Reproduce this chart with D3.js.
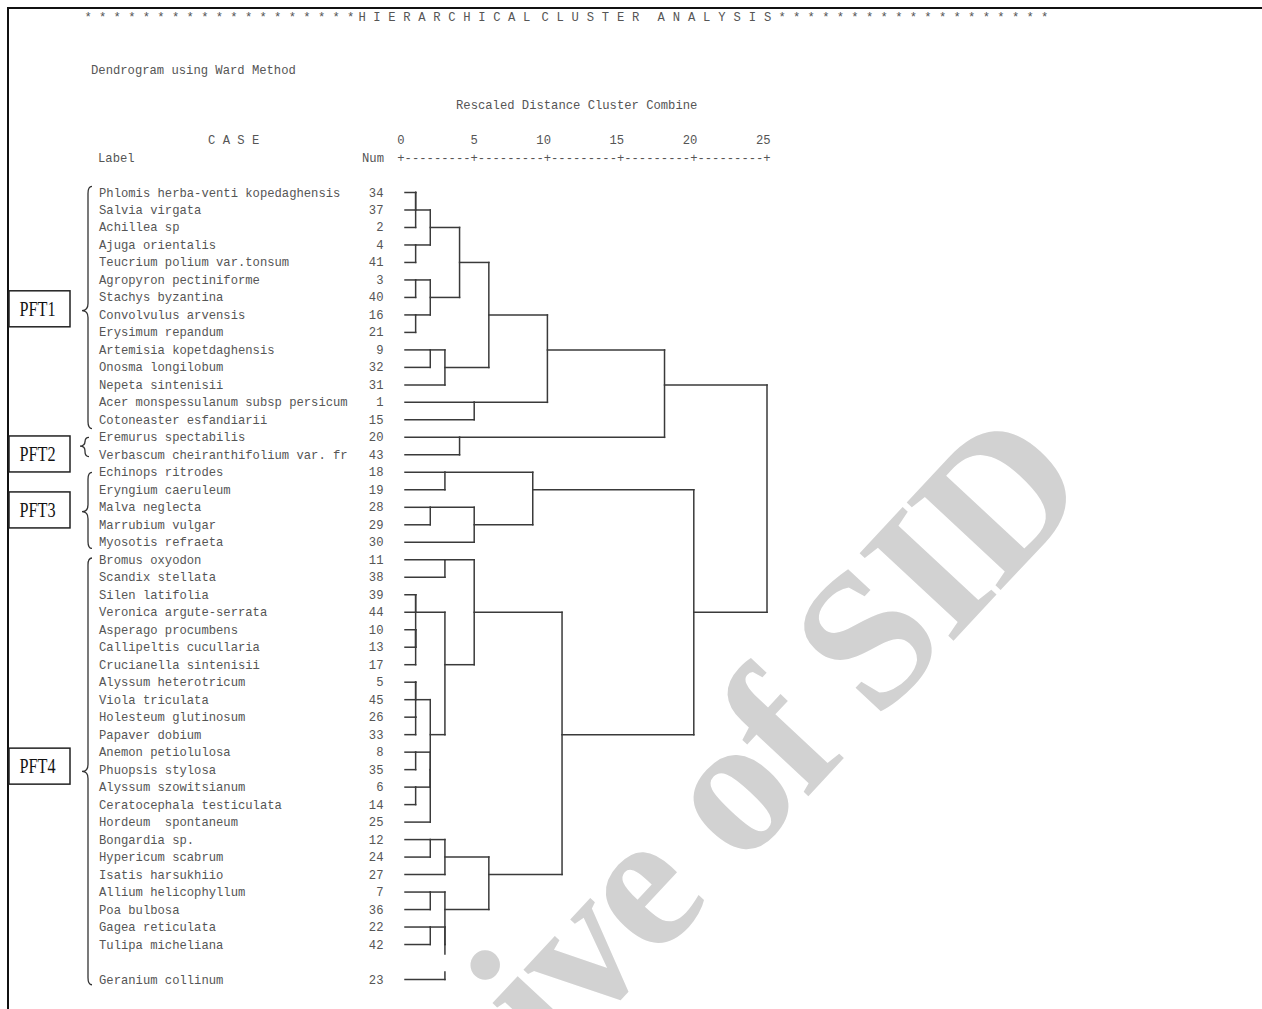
<!DOCTYPE html>
<html><head><meta charset="utf-8">
<script src="https://cdn.jsdelivr.net/npm/d3@7"></script>
<style>
html,body{margin:0;padding:0;background:#fff;}
svg{display:block;}
.mono{font-family:"Liberation Mono","Courier New",monospace;font-size:12.2px;fill:#555;white-space:pre;}
</style></head><body>
<svg id="chart" width="1262" height="1009"></svg>
<script>
// ---------------- DATA ----------------
const caseLabels = [
  "Phlomis herba-venti kopedaghensis","Salvia virgata","Achillea sp","Ajuga orientalis",
  "Teucrium polium var.tonsum","Agropyron pectiniforme","Stachys byzantina","Convolvulus arvensis",
  "Erysimum repandum","Artemisia kopetdaghensis","Onosma longilobum","Nepeta sintenisii",
  "Acer monspessulanum subsp persicum","Cotoneaster esfandiarii","Eremurus spectabilis",
  "Verbascum cheiranthifolium var. fr","Echinops ritrodes","Eryngium caeruleum","Malva neglecta",
  "Marrubium vulgar","Myosotis refraeta","Bromus oxyodon","Scandix stellata","Silen latifolia",
  "Veronica argute-serrata","Asperago procumbens","Callipeltis cucullaria","Crucianella sintenisii",
  "Alyssum heterotricum","Viola triculata","Holesteum glutinosum","Papaver dobium",
  "Anemon petiolulosa","Phuopsis stylosa","Alyssum szowitsianum","Ceratocephala testiculata",
  "Hordeum  spontaneum","Bongardia sp.","Hypericum scabrum","Isatis harsukhiio",
  "Allium helicophyllum","Poa bulbosa","Gagea reticulata","Tulipa micheliana","Geranium collinum"
];
const caseNums = [34,37,2,4,41,3,40,16,21,9,32,31,1,15,20,43,18,19,28,29,30,11,38,39,44,10,13,17,
  5,45,26,33,8,35,6,14,25,12,24,27,7,36,22,42,23];
// agglomeration: [clusterA, clusterB, rescaled distance]; numbers = case Num, "mK" = merge K
const merges = [
  [34,37,1],["m0",2,1],[4,41,1],["m1","m2",2],[3,40,1],[16,21,1],["m4","m5",2],["m3","m6",4],
  [9,32,2],["m8",31,3],["m7","m9",6],[1,15,5],["m10","m11",10],[20,43,4],["m12","m13",18],
  [18,19,3],[28,29,2],["m16",30,5],["m15","m17",9],
  [11,38,3],[10,13,1],["m20",17,1],[39,44,1],["m22","m21",1],[5,45,1],[26,33,1],["m24","m25",1],
  [8,35,1],[6,14,1],["m27","m28",2],["m29",25,2],["m26","m30",2],["m23","m31",3],["m19","m32",5],
  [12,24,2],["m34",27,3],[7,36,2],[22,42,2],["m37",23,3],["m36","m38",3],["m35","m39",6],
  ["m33","m40",11],["m18","m41",20],["m14","m42",25]
];
const axisTicks = [0,5,10,15,20,25];
const groupNames = ["PFT1","PFT2","PFT3","PFT4"];
const groupRowSpan = [[-0.35,13.5],[14,15.1],[16,20.35],[20.9,45.3]];
const groupTipRow = [6.75,14.5,18.25,33.1];
const groupBoxRow = [6.65,14.95,18.15,32.8];
const blankAfterRow = 43;   // an empty listing line follows this row

// ---------------- LAYOUT ----------------
const svg = d3.select("#chart");
const W = 1262, H = 1009;
const x = d3.scaleLinear().domain([0,25]).range([401,767]);
const y = d3.scaleLinear().domain([0,45]).range([192.5,979.5]);
const slot = i => i > blankAfterRow ? i + 1 : i;
const lineColor = "#3a3a3a";

// watermark
svg.append("text")
  .attr("transform","translate(1092,492) rotate(-47)")
  .attr("text-anchor","end")
  .style("font-family","'Liberation Serif','Times New Roman',serif")
  .style("font-weight","bold")
  .style("font-size","196px")
  .style("letter-spacing","-4px")
  .style("fill","#d2d2d2")
  .text("Archive of SID");

// frame
svg.append("line").attr("x1",8).attr("x2",W).attr("y1",8).attr("y2",8)
  .attr("stroke","#111").attr("stroke-width",2);
svg.append("line").attr("x1",8).attr("x2",8).attr("y1",7).attr("y2",H)
  .attr("stroke","#111").attr("stroke-width",2);

// header
const hdr = svg.append("g");
const stars = Array(19).fill("*").join(" ");
[[84.4,270,stars],[358.4,172,"H I E R A R C H I C A L"],[541.4,98,"C L U S T E R"],
 [657.4,114,"A N A L Y S I S"],[778.4,270,stars]].forEach(([x0,len,t])=>{
  hdr.append("text").attr("class","mono").attr("x",x0).attr("y",21)
    .attr("textLength",len).attr("lengthAdjust","spacing").text(t);
});
svg.append("text").attr("class","mono").attr("x",91).attr("y",74).text("Dendrogram using Ward Method");
svg.append("text").attr("class","mono").attr("x",456).attr("y",109).text("Rescaled Distance Cluster Combine");
svg.append("text").attr("class","mono").attr("x",208).attr("y",144).text("C A S E");
svg.append("text").attr("class","mono").attr("x",98).attr("y",162).text("Label");
svg.append("text").attr("class","mono").attr("x",384).attr("y",162).attr("text-anchor","end").text("Num");

// text axis
const ax = svg.append("g");
ax.selectAll("text.tl").data(axisTicks).join("text").attr("class","mono tl")
  .attr("x",d=>x(d)+3.6).attr("y",144).attr("text-anchor","end").text(d=>d);
ax.selectAll("text.tp").data(axisTicks).join("text").attr("class","mono tp")
  .attr("x",d=>x(d)).attr("y",162).attr("text-anchor","middle").text("+");
ax.selectAll("text.td").data(d3.pairs(axisTicks)).join("text").attr("class","mono td")
  .attr("x",d=>x(d[0])+3.6).attr("y",162)
  .attr("textLength",d=>x(d[1])-x(d[0])-7.2).attr("lengthAdjust","spacing")
  .text("---------");

// labels and numbers
const rows = caseLabels.map((l,i)=>({label:l,num:caseNums[i],row:i}));
svg.selectAll("text.lab").data(rows).join("text").attr("class","mono lab")
  .attr("x",99).attr("y",d=>y(slot(d.row))+4).text(d=>d.label);
svg.selectAll("text.num").data(rows).join("text").attr("class","mono num")
  .attr("x",383.5).attr("y",d=>y(slot(d.row))+4).attr("text-anchor","end").text(d=>d.num);

// dendrogram
const nodes = {};
rows.forEach(r=>{ nodes[r.num] = {pos:r.row, h:0, leaf:true}; });
const segs = [];
merges.forEach((m,i)=>{
  const a = nodes[m[0]], b = nodes[m[1]], d = m[2];
  [a,b].forEach(c=>{
    segs.push({x1: c.leaf ? x(0)+4 : x(c.h), x2: x(d), y1: y(slot(c.pos)), y2: y(slot(c.pos))});
  });
  const lo = Math.min(a.pos,b.pos), hi = Math.max(a.pos,b.pos);
  const sLo = slot(lo), sHi = slot(hi);
  if (lo <= blankAfterRow && hi > blankAfterRow) {
    const gy = y(blankAfterRow+1);
    segs.push({x1:x(d),x2:x(d),y1:y(sLo),y2:gy-8});
    segs.push({x1:x(d),x2:x(d),y1:gy+10,y2:y(sHi)});
  } else {
    segs.push({x1:x(d),x2:x(d),y1:y(sLo),y2:y(sHi)});
  }
  nodes["m"+i] = {pos: Math.floor((a.pos+b.pos)/2), h:d, leaf:false};
});
svg.append("g").selectAll("line").data(segs).join("line")
  .attr("x1",d=>d.x1).attr("x2",d=>d.x2).attr("y1",d=>d.y1).attr("y2",d=>d.y2)
  .attr("stroke",lineColor).attr("stroke-width",1.5).attr("stroke-linecap","square");

// group braces and boxes
function brace(xs, y0, y1, ym, tipW, curl) {
  const r = Math.min(7,(y1-y0)/4);
  return `M${xs+curl},${y0} Q${xs},${y0} ${xs},${y0+r} L${xs},${ym-r} Q${xs},${ym} ${xs-tipW},${ym} `+
         `Q${xs},${ym} ${xs},${ym+r} L${xs},${y1-r} Q${xs},${y1} ${xs+curl},${y1}`;
}
groupNames.forEach((g,i)=>{
  const small = (groupRowSpan[i][1]-groupRowSpan[i][0]) < 3;
  const xs = small ? 85 : 88;
  svg.append("path")
    .attr("d",brace(xs, y(groupRowSpan[i][0]), y(groupRowSpan[i][1]), y(groupTipRow[i]), small?5:6, 4))
    .attr("fill","none").attr("stroke","#333").attr("stroke-width",1.3);
  const cy = y(groupBoxRow[i]);
  svg.append("rect").attr("x",9).attr("y",cy-18).attr("width",61).attr("height",36)
    .attr("fill","#fff").attr("stroke","#222").attr("stroke-width",1.5);
  svg.append("text").attr("x",37.5).attr("y",cy+7).attr("text-anchor","middle")
    .attr("textLength",36).attr("lengthAdjust","spacingAndGlyphs")
    .style("font-family","'Liberation Serif','Times New Roman',serif").style("font-size","21px")
    .style("fill","#111").text(g);
});
</script>
</body></html>
